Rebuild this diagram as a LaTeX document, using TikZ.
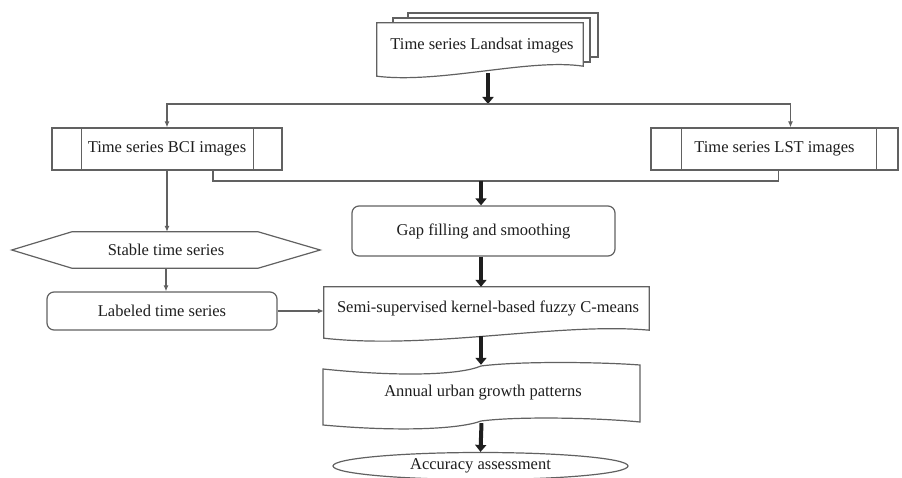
\documentclass[tikz,border=0pt]{standalone}
\usepackage{fontspec}
\setmainfont{Liberation Serif}
\usepackage{tikz}
\usetikzlibrary{arrows.meta,shapes.geometric,positioning}

\definecolor{edgegray}{HTML}{616161}
\definecolor{inkblack}{HTML}{1E1E1E}

\begin{document}
\begin{tikzpicture}[x=1pt, y=-1pt,
  lbl/.style={inner sep=0pt, text=inkblack, font=\fontsize{16.5}{19}\selectfont},
  box/.style={lbl, draw=edgegray, line width=1.2pt, fill=white},
  link/.style={draw=edgegray, line width=1.4pt, -{Latex[length=6pt,width=5pt]}},
  fat/.style={draw=inkblack, line width=4pt, -{Triangle[length=7pt,width=11pt]}},
  outline/.style={draw=edgegray, line width=1.2pt, fill=white}]

\useasboundingbox (0,0) rectangle (902,478);

% Stack of pages
\draw[outline] (408,13) rectangle (598,57);
\draw[outline] (393,18) rectangle (590,62);
\node[lbl, minimum width=206pt, minimum height=53pt] (landsat) at (480,49.5) {};
\draw[outline] (landsat.north west) -- (landsat.north east) -- ([yshift=10pt]landsat.south east)
  .. controls (530,58) and (440,84) .. (landsat.south west) -- cycle;
\node[lbl] at (482,46) {Time series Landsat images};

% Second row
\node[box, minimum width=230pt, minimum height=42pt] (bci) at (167,149) {Time series BCI images};
\draw[edgegray, line width=1.2pt] ([xshift=30pt]bci.north west) -- ([xshift=30pt]bci.south west)
  ([xshift=-29pt]bci.north east) -- ([xshift=-29pt]bci.south east);
\node[box, minimum width=247pt, minimum height=42pt] (lst) at (774.5,149) {Time series LST images};
\draw[edgegray, line width=1.2pt] ([xshift=31pt]lst.north west) -- ([xshift=31pt]lst.south west)
  ([xshift=-22pt]lst.north east) -- ([xshift=-22pt]lst.south east);

% Split and merge
\coordinate (split) at (488,104);
\draw[fat] ([yshift=3pt]landsat.south -| split) -- (split);
\draw[link] (split) -| (bci.north);
\draw[link] (split) -| ([xshift=16pt]lst.north);

\coordinate (merge) at (481,181);
\draw[edgegray, line width=1.4pt] ([xshift=46pt]bci.south) |- (merge) -| ([xshift=4pt]lst.south);

% Central column
\node[box, rounded corners=7pt, minimum width=263pt, minimum height=50pt] (gap) at (483.5,231) {Gap filling and smoothing};
\draw[fat] (merge) -- (merge |- gap.north);

\node[lbl, minimum width=325pt, minimum height=46pt] (semi) at (486.5,310) {};
\draw[outline] (semi.north west) -- (semi.north east) -- ([yshift=3pt]semi.south east)
  .. controls (560,322) and (430,350) .. ([yshift=-5pt]semi.south west) -- cycle;
\node[lbl] at (488,308) {Semi-supervised kernel-based fuzzy C-means};
\draw[fat] (gap.south -| merge) -- (merge |- semi.north);

\node[lbl, minimum width=317pt, minimum height=60pt] (growth) at (481.5,395) {};
\draw[outline] (323,369) .. controls (400,377) and (460,375) .. (481,366)
  .. controls (520,361) and (600,362) .. (640,365) -- (640,422)
  .. controls (600,418) and (520,416) .. (481,421)
  .. controls (460,429) and (400,432) .. (323,425) -- cycle;
\node[lbl] at (483,393) {Annual urban growth patterns};
\draw[fat] ([yshift=-3pt]semi.south -| merge) -- (merge |- growth.north);

\node[box, ellipse, minimum width=295pt, minimum height=27pt] (accuracy) at (480.5,466) {Accuracy assessment};
\draw[fat] ([yshift=2pt]growth.south) -- (accuracy.north);

% Left column
\node[lbl, minimum width=308pt, minimum height=36pt] (stable) at (166,250) {};
\draw[outline] (stable.west) -- ([xshift=60pt]stable.north west) -- ([xshift=-62pt]stable.north east)
  -- (stable.east) -- ([xshift=-62pt]stable.south east) -- ([xshift=60pt]stable.south west) -- cycle;
\node[lbl] at (166,250) {Stable time series};
\draw[link] (bci.south) -- (bci.south |- stable.north);

\node[box, rounded corners=7pt, minimum width=230pt, minimum height=38pt] (labeled) at (162,311) {Labeled time series};
\draw[link] (stable.south) -- (stable.south |- labeled.north);
\draw[link] (labeled.east) -- (labeled.east -| semi.west);

\end{tikzpicture}
\end{document}
